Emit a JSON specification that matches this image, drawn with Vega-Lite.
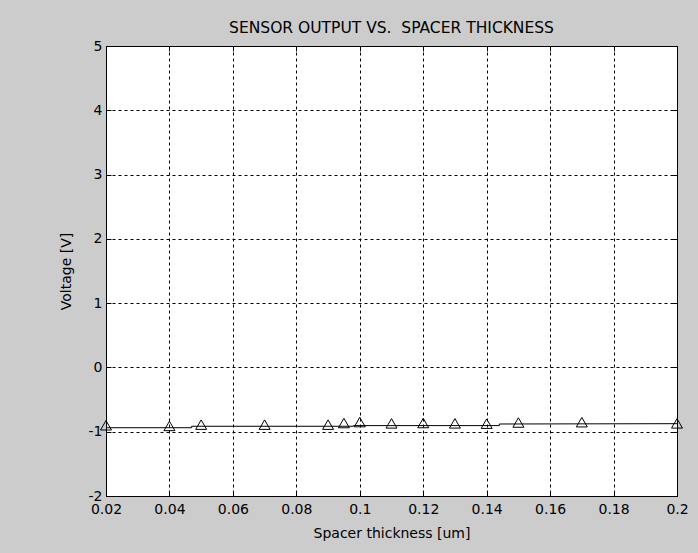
{
  "$schema": "https://vega.github.io/schema/vega-lite/v6.json",
  "autosize": "none",
  "width": 571,
  "height": 450,
  "padding": {"left": 106, "top": 46, "right": 21, "bottom": 57},
  "background": "#cccccc",
  "title": {"text": "SENSOR OUTPUT VS.\u00a0 SPACER THICKNESS", "font": "DejaVu Sans", "fontSize": 15.5, "fontWeight": "normal", "color": "black", "offset": 3},
  "config": {
    "view": {"fill": "white", "stroke": "black", "strokeWidth": 1},
    "axis": {"labelFont": "DejaVu Sans", "titleFont": "DejaVu Sans", "labelFontSize": 14, "titleFontSize": 14, "titleFontWeight": "normal", "labelColor": "black", "titleColor": "black", "domainColor": "black", "tickColor": "black", "gridColor": "black", "gridDash": [3, 3], "gridOpacity": 1}
  },
  "datasets": {
    "line": [
      {"x": 0.02, "y": -0.938},
      {"x": 0.047, "y": -0.938},
      {"x": 0.047, "y": -0.915},
      {"x": 0.098, "y": -0.915},
      {"x": 0.098, "y": -0.905},
      {"x": 0.144, "y": -0.905},
      {"x": 0.144, "y": -0.88},
      {"x": 0.2, "y": -0.875}
    ],
    "pts": [
      {"x": 0.02, "y": -0.9},
      {"x": 0.04, "y": -0.91},
      {"x": 0.05, "y": -0.89},
      {"x": 0.07, "y": -0.89},
      {"x": 0.09, "y": -0.89},
      {"x": 0.095, "y": -0.865},
      {"x": 0.1, "y": -0.85},
      {"x": 0.11, "y": -0.87},
      {"x": 0.12, "y": -0.865},
      {"x": 0.13, "y": -0.87},
      {"x": 0.14, "y": -0.875},
      {"x": 0.15, "y": -0.857},
      {"x": 0.17, "y": -0.852},
      {"x": 0.2, "y": -0.87}
    ]
  },
  "resolve": {"axis": {"x": "independent", "y": "independent"}},
  "layer": [
    {
      "data": {"name": "line"},
      "mark": {"type": "line", "color": "black", "strokeWidth": 1, "clip": true},
      "encoding": {
        "x": {"field": "x", "type": "quantitative", "scale": {"domain": [0.02, 0.2], "nice": false, "zero": false},
          "axis": {"orient": "bottom", "title": "Spacer thickness [um]", "values": [0.02, 0.04, 0.06, 0.08, 0.1, 0.12, 0.14, 0.16, 0.18, 0.2], "format": "~g", "grid": true, "tickSize": -5, "labelPadding": 11, "titlePadding": 10, "labelFlush": false, "labelOverlap": false}},
        "y": {"field": "y", "type": "quantitative", "scale": {"domain": [-2, 5], "nice": false, "zero": false},
          "axis": {"orient": "left", "title": "Voltage [V]", "values": [-2, -1, 0, 1, 2, 3, 4, 5], "labelExpr": "'' + datum.value", "grid": true, "tickSize": -5, "labelPadding": 9, "titlePadding": 15, "labelFlush": false, "labelOverlap": false}}
      }
    },
    {
      "data": {"name": "pts"},
      "mark": {"type": "point", "shape": "triangle-up", "size": 120, "filled": false, "stroke": "black", "strokeWidth": 1, "opacity": 1},
      "encoding": {
        "x": {"field": "x", "type": "quantitative",
          "axis": {"orient": "top", "title": null, "labels": false, "grid": false, "tickSize": -5, "values": [0.02, 0.04, 0.06, 0.08, 0.1, 0.12, 0.14, 0.16, 0.18, 0.2]}},
        "y": {"field": "y", "type": "quantitative",
          "axis": {"orient": "right", "title": null, "labels": false, "grid": false, "tickSize": -5, "values": [-2, -1, 0, 1, 2, 3, 4, 5]}}
      }
    }
  ]
}
